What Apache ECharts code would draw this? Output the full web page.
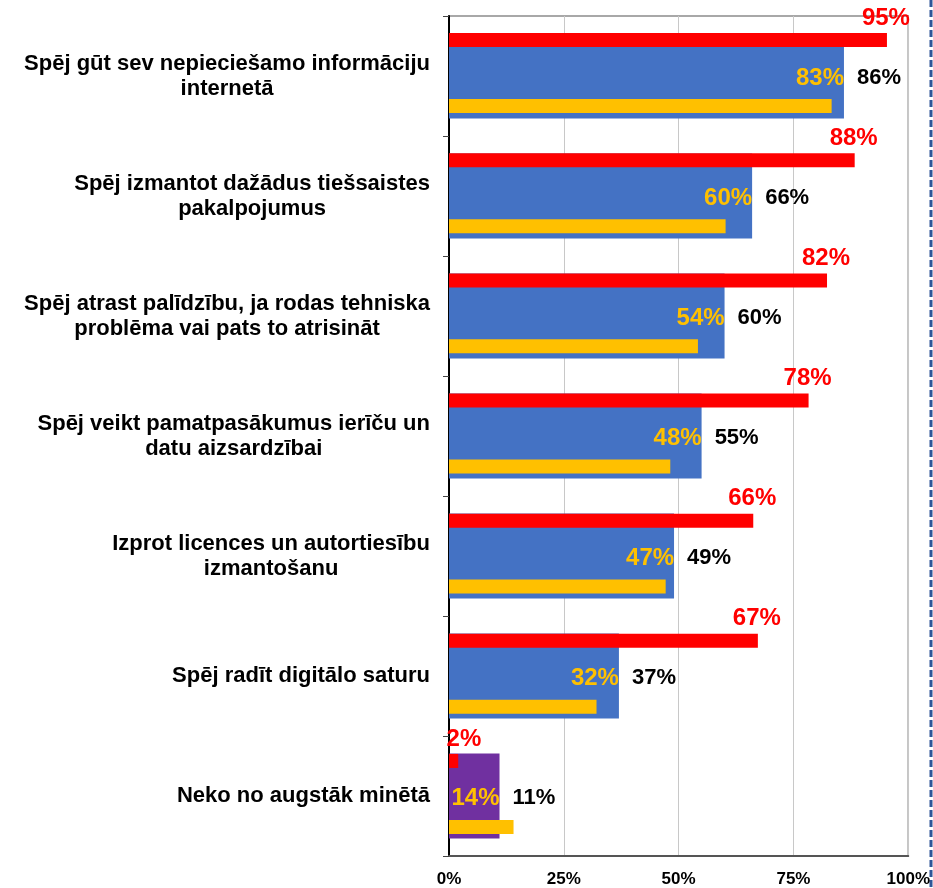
<!DOCTYPE html>
<html lang="lv">
<head>
<meta charset="UTF-8">
<title>Digitālās prasmes</title>
<script src="https://cdn.jsdelivr.net/npm/echarts@6/dist/echarts.min.js"></script>
<style>
  html, body { margin: 0; padding: 0; background: #fff; }
  #chart { width: 933px; height: 888px; }
</style>
</head>
<body>
<div id="chart"></div>
<script>
// kategorijas (no augšas uz leju)
var categories = [
  'Spēj gūt sev nepieciešamo informāciju\ninternetā',
  'Spēj izmantot dažādus tiešsaistes\npakalpojumus',
  'Spēj atrast palīdzību, ja rodas tehniska\nproblēma vai pats to atrisināt',
  'Spēj veikt pamatpasākumus ierīču un\ndatu aizsardzībai',
  'Izprot licences un autortiesību\nizmantošanu',
  'Spēj radīt digitālo saturu',
  'Neko no augstāk minētā'
];
// vērtības, %
var totalValues = [86, 66, 60, 55, 49, 37, 11];
var redValues = [95, 88, 82, 78, 66, 67, 2];
var yellowValues = [83, 60, 54, 48, 47, 32, 14];
var xTicks = [0, 25, 50, 75, 100];

var FONT = 'Liberation Sans, Arial, sans-serif';
var chart = echarts.init(document.getElementById('chart'));

var blueData = totalValues.map(function (v, i) {
  // pēdējā josla ir violeta
  if (i === totalValues.length - 1) return { value: v, itemStyle: { color: '#7030A0' } };
  return v;
});

chart.setOption({
  animation: false,
  textStyle: { fontFamily: FONT },
  grid: [{
    left: 449, right: 23, top: 16, bottom: 31,
    show: true, borderColor: '#8C8C8C', borderWidth: 1.5
  }, {
    // sarkanās/dzeltenās joslas nedaudz augstāk
    left: 449, right: 23, top: 13, bottom: 34
  }],
  xAxis: [{
    type: 'value',
    gridIndex: 0,
    min: xTicks[0], max: xTicks[xTicks.length - 1], interval: 25,
    axisLine: { show: true, lineStyle: { color: '#555', width: 2 } },
    axisTick: { show: false },
    splitLine: { lineStyle: { color: '#C8C8C8', width: 1 } },
    axisLabel: {
      formatter: '{value}%', color: '#000', fontSize: 17, fontWeight: 'bold',
      margin: 15, fontFamily: FONT
    }
  }, {
    type: 'value',
    gridIndex: 1,
    min: xTicks[0], max: xTicks[xTicks.length - 1],
    show: false,
    splitLine: { show: false }
  }],
  yAxis: [{
    type: 'category',
    gridIndex: 0,
    data: categories,
    inverse: true,
    axisLine: { show: true, lineStyle: { color: '#000', width: 2 } },
    axisTick: { show: true, length: 6, lineStyle: { color: '#444' } },
    axisLabel: {
      margin: 19,
      formatter: function (v) {
        return v.split('\n').map(function (s) { return '{c|' + s + '}'; }).join('\n');
      },
      rich: {
        c: { align: 'center', fontSize: 22, fontWeight: 'bold', color: '#000', lineHeight: 25, fontFamily: FONT }
      }
    }
  }, {
    type: 'category',
    gridIndex: 1,
    data: categories,
    inverse: true,
    show: false
  }],
  series: [{
    name: 'Kopā',
    type: 'bar',
    xAxisIndex: 0,
    yAxisIndex: 0,
    barWidth: 85,
    itemStyle: { color: '#4472C4' },
    data: blueData,
    z: 2,
    label: {
      show: true,
      position: 'right',
      distance: 0,
      offset: [-48, 2],
      formatter: function (p) {
        return '{y|' + yellowValues[p.dataIndex] + '%}{k|' + p.value + '%}';
      },
      rich: {
        y: { color: '#FFC000', fontSize: 24, fontWeight: 'bold', fontFamily: FONT },
        k: { color: '#000', fontSize: 22, fontWeight: 'bold', fontFamily: FONT, padding: [0, 0, 0, 13] }
      }
    }
  }, {
    name: 'Sarkanā',
    type: 'bar',
    xAxisIndex: 1,
    yAxisIndex: 1,
    barWidth: 14,
    barGap: '371%',
    itemStyle: { color: '#FF0000' },
    data: redValues,
    z: 3,
    label: {
      show: true,
      position: ['100%', 0],
      align: 'right',
      verticalAlign: 'bottom',
      offset: [23, -3],
      formatter: '{c}%',
      color: '#FF0000',
      fontSize: 24,
      fontWeight: 'bold',
      fontFamily: FONT
    }
  }, {
    name: 'Dzeltenā',
    type: 'bar',
    xAxisIndex: 1,
    yAxisIndex: 1,
    barWidth: 14,
    barGap: '371%',
    itemStyle: { color: '#FFC000' },
    data: yellowValues,
    z: 3
  }],
  graphic: [{
    type: 'line',
    shape: { x1: 931, y1: 0, x2: 931, y2: 888 },
    style: { stroke: '#2F5597', lineWidth: 3, lineDash: [7, 3] }
  }]
});
</script>
</body>
</html>
